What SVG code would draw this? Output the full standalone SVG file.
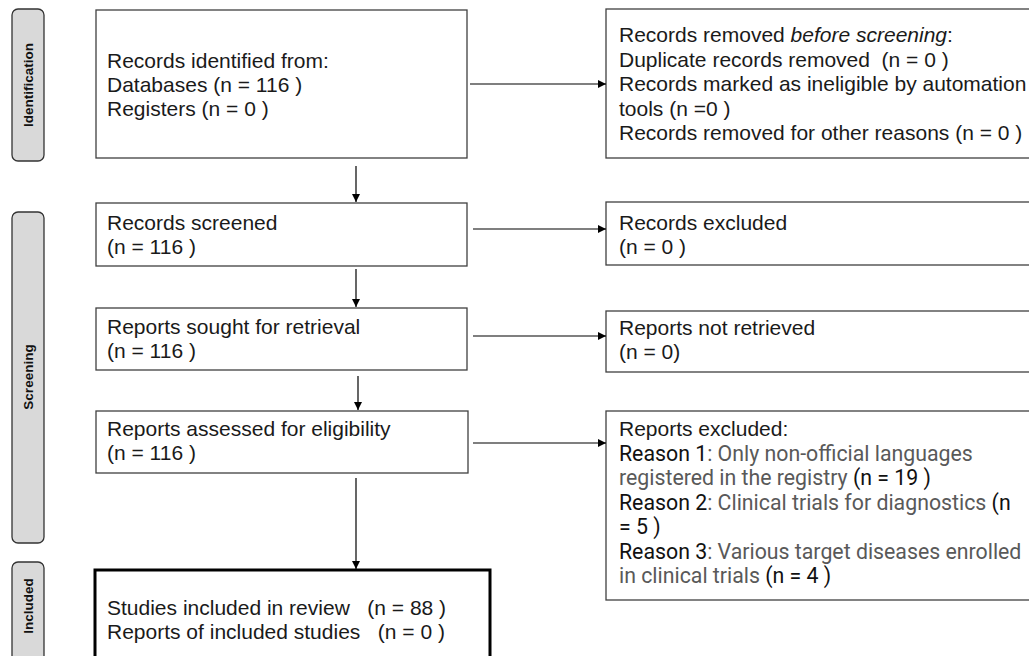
<svg xmlns="http://www.w3.org/2000/svg" width="1029" height="656" viewBox="0 0 1029 656">
<style>
.box{fill:#fff;stroke:#404040;stroke-width:1.3}
.bold{fill:#fff;stroke:#000;stroke-width:3}
.lab{fill:#d9d9d9;stroke:#333;stroke-width:1.3}
.lt{font-family:"Liberation Sans",Arial,sans-serif;font-weight:bold;font-size:13.5px;fill:#111;text-anchor:middle}
.t{font-family:"Liberation Sans",Arial,sans-serif;font-size:21px;fill:#1a1a1a;white-space:pre}
.r{font-family:Roboto,"Liberation Sans",sans-serif;font-size:21.3px;fill:#595959}
.k{fill:#111}
.c{stroke:#000;stroke-width:1.2;fill:none;marker-end:url(#ah)}
</style>
<defs>
<marker id="ah" viewBox="0 0 10 10" refX="10" refY="5" markerWidth="8" markerHeight="8" markerUnits="userSpaceOnUse" orient="auto">
<path d="M0,0 L10,5 L0,10 z" fill="#000"/>
</marker>
</defs>
<rect width="1029" height="656" fill="#fff"/>

<g id="phase-identification">
<rect class="lab" x="12" y="9" width="32" height="152" rx="6"/>
<text class="lt" transform="translate(32.5,85) rotate(-90)">Identification</text>
</g>
<g id="phase-screening">
<rect class="lab" x="12" y="212" width="32" height="331" rx="6"/>
<text class="lt" transform="translate(32.5,377) rotate(-90)">Screening</text>
</g>
<g id="phase-included">
<rect class="lab" x="12" y="562" width="32" height="110" rx="6"/>
<text class="lt" transform="translate(32.5,606) rotate(-90)">Included</text>
</g>

<g id="records-identified">
<rect class="box" x="96" y="10" width="371" height="148"/>
<text class="t" x="107" y="67.5">Records identified from:</text>
<text class="t" x="107" y="91.5">Databases (n = 116 )</text>
<text class="t" x="107" y="115.5">Registers (n = 0 )</text>
</g>

<g id="records-removed">
<rect class="box" x="606" y="9" width="440" height="149"/>
<text class="t" x="619" y="42">Records removed <tspan font-style="italic">before screening</tspan>:</text>
<text class="t" x="619" y="66.5" xml:space="preserve">Duplicate records removed  (n = 0 )</text>
<text class="t" x="619" y="91">Records marked as ineligible by automation</text>
<text class="t" x="619" y="115.5">tools (n =0 )</text>
<text class="t" x="619" y="140">Records removed for other reasons (n = 0 )</text>
</g>

<g id="records-screened">
<rect class="box" x="96" y="203" width="371" height="63"/>
<text class="t" x="107" y="229.5">Records screened</text>
<text class="t" x="107" y="253.5">(n = 116 )</text>
</g>

<g id="records-excluded">
<rect class="box" x="606" y="202" width="440" height="63"/>
<text class="t" x="619" y="229.5">Records excluded</text>
<text class="t" x="619" y="253.5">(n = 0 )</text>
</g>

<g id="reports-sought">
<rect class="box" x="96" y="308" width="371" height="62"/>
<text class="t" x="107" y="334">Reports sought for retrieval</text>
<text class="t" x="107" y="358">(n = 116 )</text>
</g>

<g id="reports-not-retrieved">
<rect class="box" x="606" y="311" width="440" height="61"/>
<text class="t" x="619" y="335">Reports not retrieved</text>
<text class="t" x="619" y="359">(n = 0)</text>
</g>

<g id="reports-assessed">
<rect class="box" x="96" y="411" width="372" height="62"/>
<text class="t" x="107" y="436">Reports assessed for eligibility</text>
<text class="t" x="107" y="460">(n = 116 )</text>
</g>

<g id="reports-excluded">
<rect class="box" x="606" y="411" width="440" height="189"/>
<text class="t" x="619" y="436">Reports excluded:</text>
<text class="r" x="619" y="460.5"><tspan class="k">Reason 1</tspan>: Only non-official languages</text>
<text class="r" x="619" y="485"><tspan>registered in the registry </tspan><tspan class="k">(n = 19 )</tspan></text>
<text class="r" x="619" y="509.5"><tspan class="k">Reason 2</tspan>: Clinical trials for diagnostics <tspan class="k">(n</tspan></text>
<text class="r" x="619" y="534"><tspan class="k">= 5 )</tspan></text>
<text class="r" x="619" y="558.5"><tspan class="k">Reason 3</tspan>: Various target diseases enrolled</text>
<text class="r" x="619" y="583">in clinical trials <tspan class="k">(n = 4 )</tspan></text>
</g>

<g id="studies-included">
<rect class="bold" x="95" y="570" width="395" height="100"/>
<text class="t" x="107" y="615" xml:space="preserve">Studies included in review   (n = 88 )</text>
<text class="t" x="107" y="639" xml:space="preserve">Reports of included studies   (n = 0 )</text>
</g>

<g id="connectors">
<path class="c" d="M470,84 H606"/>
<path class="c" d="M356,166 V202"/>
<path class="c" d="M473,229 H606"/>
<path class="c" d="M356,269 V307"/>
<path class="c" d="M473,336 H606"/>
<path class="c" d="M358,376 V410"/>
<path class="c" d="M473,443 H606"/>
<path class="c" d="M356,478 V569"/>
</g>
</svg>
